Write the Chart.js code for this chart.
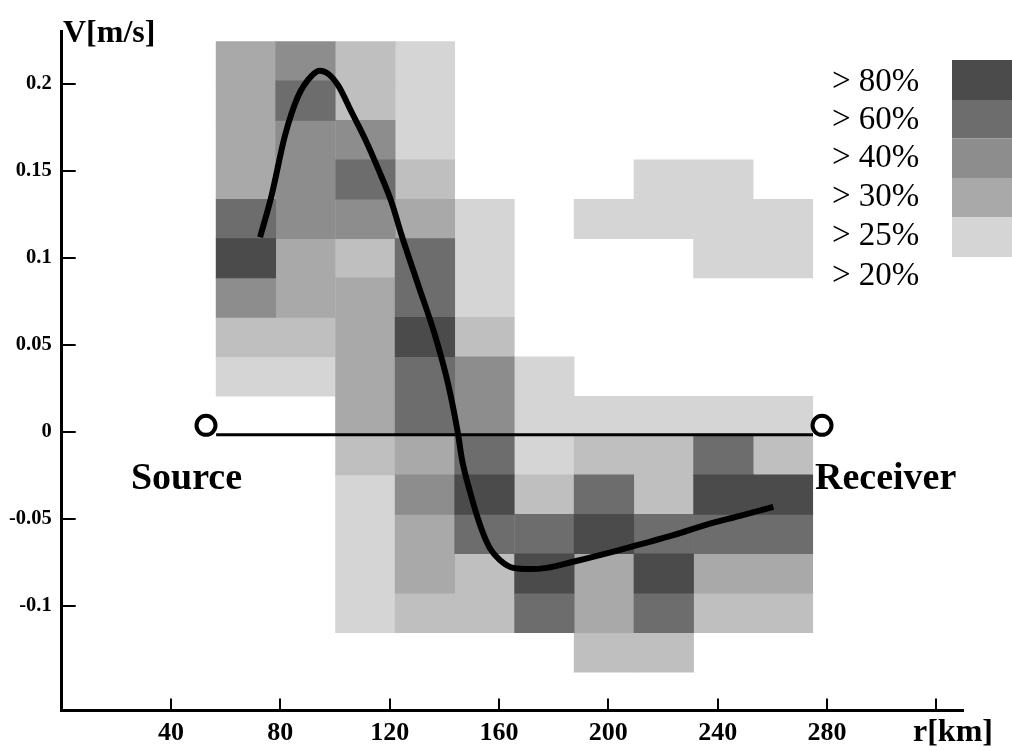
<!DOCTYPE html>
<html><head><meta charset="utf-8">
<script src="https://cdn.jsdelivr.net/npm/chart.js@4.4.0/dist/chart.umd.min.js"></script>
<style>html,body{margin:0;padding:0;background:#fff;overflow:hidden}canvas{display:block}</style>
</head><body>
<canvas id="c" width="1012" height="751"></canvas>
<script>
// ---- data ----
const rBins = [67.4, 89.2, 111.1, 132.9, 154.7, 176.6, 198.4, 220.3, 242.1, 263.9]; // column centres [km]
const vEdges = [0.2243, 0.2017, 0.1790, 0.1564, 0.1337, 0.1111, 0.0885, 0.0658, 0.0432, 0.0205,
                -0.0021, -0.0247, -0.0474, -0.0700, -0.0927, -0.1153, -0.1380]; // row edges [m/s]
// probability class per cell (rows top->bottom): 6 '>80%', 5 '>60%', 4 '>40%', 3 '>30%', 2 '>25%', 1 '>20%', 0 none
const probGrid = [
  [3,4,2,1,0,0,0,0,0,0],
  [3,5,2,1,0,0,0,0,0,0],
  [3,4,4,1,0,0,0,0,0,0],
  [3,4,5,2,0,0,0,1,1,0],
  [5,4,4,3,1,0,1,1,1,1],
  [6,3,2,5,1,0,0,0,1,1],
  [4,3,3,5,1,0,0,0,0,0],
  [2,2,3,6,2,0,0,0,0,0],
  [1,1,3,5,4,1,0,0,0,0],
  [0,0,3,5,4,1,1,1,1,1],
  [0,0,2,3,5,1,2,2,5,2],
  [0,0,1,4,6,2,5,2,6,6],
  [0,0,1,3,5,5,6,5,5,5],
  [0,0,1,3,2,6,3,6,3,3],
  [0,0,1,2,2,5,3,5,2,2],
  [0,0,0,0,0,0,2,2,0,0]
];
const levelLabels = ['> 80%', '> 60%', '> 40%', '> 30%', '> 25%', '> 20%'];
const levelIds = [6, 5, 4, 3, 2, 1];
const curveR = [72.6, 76.8, 81.7, 86.6, 91.5, 94.5, 97.6, 101.2, 106.1, 111.0, 115.8, 120.7, 124.4, 130.5,
                136.6, 141.5, 145.1, 146.4, 149.4, 153.1, 156.7, 160.4, 165.2, 171.3, 177.5, 187.2, 199.4,
                211.6, 223.8, 236.0, 248.2, 260.4];
const curveV = [0.1119, 0.1359, 0.1703, 0.1933, 0.2048, 0.2076, 0.2057, 0.1990, 0.1837, 0.1684, 0.1512,
                0.1320, 0.1129, 0.0842, 0.0555, 0.0268, -0.0019, -0.0153, -0.0344, -0.0536, -0.0669,
                -0.0737, -0.0781, -0.0788, -0.0781, -0.0746, -0.0698, -0.0646, -0.0593, -0.0532, -0.0482, -0.0431];
const pathR = [56.5, 274.9];
const pathV = [-0.0016, -0.0016];
const stationR = [52.8, 278.2];
const stationV = [0.0038, 0.0038];
const stationNames = ['Source', 'Receiver'];
const xTicks = [40, 80, 120, 160, 200, 240, 280, 320];
const xTickLabels = ['40', '80', '120', '160', '200', '240', '280', ''];
const yTicks = [0.2, 0.15, 0.1, 0.05, 0, -0.05, -0.1];
const yTickLabels = ['0.2', '0.15', '0.1', '0.05', '0', '-0.05', '-0.1'];

// ---- styles ----
const levelColors = {6: '#4b4b4b', 5: '#6d6d6d', 4: '#8d8d8d', 3: '#a9a9a9', 2: '#bfbfbf', 1: '#d5d5d5'};
const SERIF = '"Liberation Serif", "Times New Roman", serif';

const datasets = [];
datasets.push({
  type: 'scatter', label: 'stations', order: 0, clip: false,
  data: stationR.map((r, i) => ({x: r, y: stationV[i]})),
  pointRadius: 9.5, pointBorderWidth: 4, pointBackgroundColor: '#fff', pointBorderColor: '#000',
  pointHoverRadius: 9.5
});
datasets.push({
  type: 'line', label: 'velocity', order: 1,
  data: curveR.map((r, i) => ({x: r, y: curveV[i]})),
  borderColor: '#000', borderWidth: 6, pointRadius: 0, cubicInterpolationMode: 'monotone',
  borderCapStyle: 'butt', fill: false
});
datasets.push({
  type: 'line', label: 'path', order: 2,
  data: pathR.map((r, i) => ({x: r, y: pathV[i]})),
  borderColor: '#000', borderWidth: 3, pointRadius: 0, fill: false
});
levelIds.forEach((lev, k) => {
  const data = [];
  probGrid.forEach((row, ri) => row.forEach((v, ci) => {
    if (v === lev) data.push({x: rBins[ci], y: [vEdges[ri + 1], vEdges[ri]]});
  }));
  datasets.push({
    type: 'bar', label: levelLabels[k], order: 10 + k, data,
    backgroundColor: levelColors[lev], borderWidth: 0,
    barPercentage: 1, categoryPercentage: 1, grouped: false
  });
});

const decor = {
  id: 'decor',
  afterDraw(chart) {
    const ctx = chart.ctx, xs = chart.scales.x, ys = chart.scales.y;
    const ca = chart.chartArea;
    ctx.save();
    ctx.strokeStyle = '#000'; ctx.lineWidth = 2;
    // inward tick marks
    yTicks.forEach(v => {
      const py = Math.round(ys.getPixelForValue(v));
      ctx.beginPath(); ctx.moveTo(ca.left, py); ctx.lineTo(ca.left + 14, py); ctx.stroke();
    });
    xTicks.forEach(v => {
      const px = Math.round(xs.getPixelForValue(v));
      ctx.beginPath(); ctx.moveTo(px, ca.bottom); ctx.lineTo(px, ca.bottom - 12); ctx.stroke();
    });
    ctx.fillStyle = '#000';
    ctx.textBaseline = 'alphabetic';
    // axis titles
    ctx.font = 'bold 32px ' + SERIF;
    ctx.textAlign = 'left';
    ctx.fillText('V[m/s]', 63, 41.5);
    ctx.fillText('r[km]', 913, 740.5);
    // station labels
    ctx.font = 'bold 38px ' + SERIF;
    ctx.textAlign = 'center';
    ctx.fillText(stationNames[0], 186.5, 489);
    ctx.textAlign = 'left';
    ctx.fillText(stationNames[1], 815, 489);
    // legend
    ctx.font = '33px ' + SERIF;
    const base = [90.7, 129, 167, 205.5, 245, 284.5];
    levelLabels.forEach((t, i) => ctx.fillText(t, 832, base[i]));
    const sw = [[60, 100, 6], [100, 138.5, 5], [138.5, 178, 4], [178, 217, 3], [217, 257, 1]];
    sw.forEach(([a, b, lev]) => { ctx.fillStyle = levelColors[lev]; ctx.fillRect(952, a, 60, b - a); });
    ctx.restore();
  }
};

new Chart(document.getElementById('c'), {
  type: 'bar',
  data: {datasets},
  options: {
    responsive: false, animation: false, devicePixelRatio: 1,
    layout: {padding: {top: 31.7, right: 48.4, left: 0, bottom: 0}},
    plugins: {legend: {display: false}, tooltip: {enabled: false}, title: {display: false}},
    scales: {
      x: {
        type: 'linear', min: 0, max: 330, offset: false,
        grid: {display: false, drawTicks: false},
        border: {display: true, color: '#000', width: 3},
        afterFit: s => { s.height = 40.6; },
        afterBuildTicks: s => { s.ticks = xTicks.map(v => ({value: v})); },
        ticks: {
          autoSkip: false, maxRotation: 0, padding: 7, color: '#000',
          font: {family: SERIF, size: 26, weight: 'bold'},
          callback: v => xTickLabels[xTicks.indexOf(v)] ?? ''
        }
      },
      y: {
        type: 'linear', min: -0.16, max: 0.23,
        grid: {display: false, drawTicks: false},
        border: {display: true, color: '#000', width: 3},
        afterFit: s => { s.width = 61.7; },
        afterBuildTicks: s => { s.ticks = yTicks.map(v => ({value: v})); },
        ticks: {
          autoSkip: false, padding: 10, color: '#000',
          font: {family: SERIF, size: 20.5, weight: 'bold'},
          callback: v => yTickLabels[yTicks.indexOf(v)] ?? ''
        }
      }
    }
  },
  plugins: [decor]
});
</script>
</body></html>
